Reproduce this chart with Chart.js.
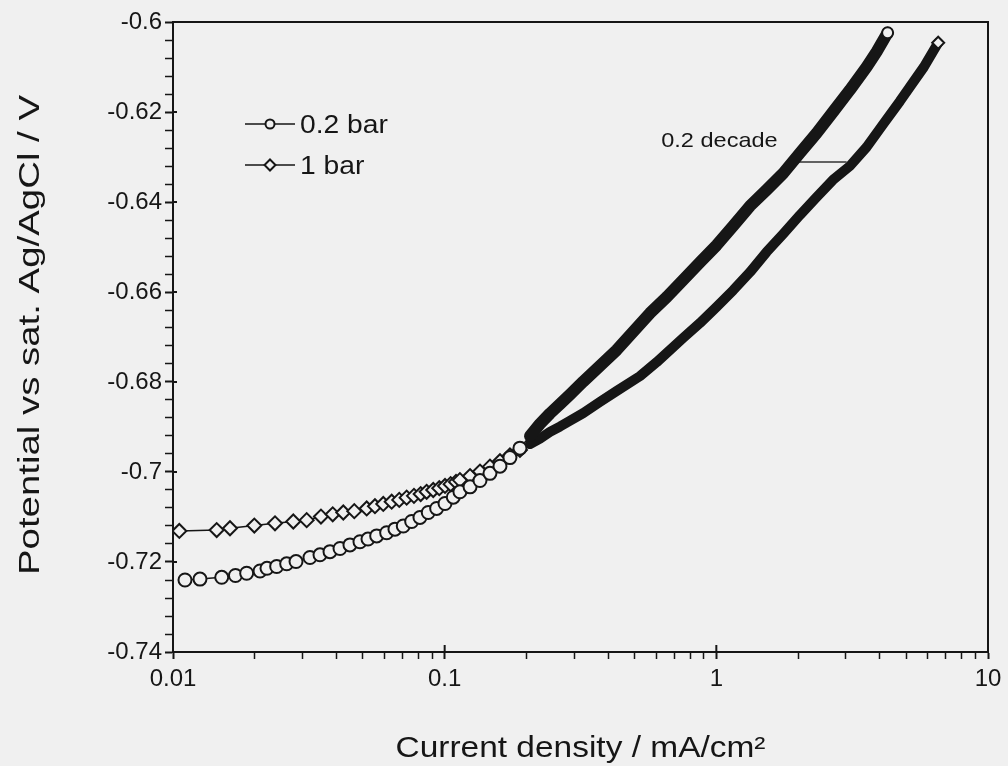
<!DOCTYPE html>
<html>
<head>
<meta charset="utf-8">
<script src="https://cdn.jsdelivr.net/npm/chart.js@4"></script>
<style>
  html, body { margin: 0; padding: 0; background: #f0f0f0; }
  #wrap { width: 1008px; height: 766px; }
</style>
</head>
<body>
<div id="wrap"><canvas id="polChart" width="1008" height="766"></canvas></div>
<script>
// current density (mA/cm2) and potential (V vs sat. Ag/AgCl)
const current02 = [0.01107, 0.01257, 0.01511, 0.01698, 0.01867, 0.02091, 0.02218, 0.02408, 0.02621, 0.02837,
  0.03193, 0.03476, 0.03784, 0.04119, 0.04481, 0.04878, 0.05221, 0.05620, 0.06116, 0.06562,
  0.07041, 0.07560, 0.08111, 0.08702, 0.09344, 0.1003, 0.1076, 0.1138, 0.1240, 0.1349,
  0.1468, 0.1598, 0.1739, 0.1893, 0.2061, 0.2243, 0.2441, 0.2657, 0.2892, 0.3236,
  0.3729, 0.4296, 0.4932, 0.5697, 0.6579, 0.7553, 0.8701, 1.0025, 1.1541, 1.3297,
  1.5316, 1.7633, 2.0313, 2.3398, 2.6867, 3.1024, 3.5740, 3.8904, 4.2705];
const potential02 = [-0.7240, -0.7238, -0.7234, -0.7230, -0.7225, -0.7220, -0.7214, -0.7210, -0.7204, -0.7199,
  -0.7190, -0.7184, -0.7177, -0.7170, -0.7162, -0.7155, -0.7149, -0.7142, -0.7135, -0.7127,
  -0.7120, -0.7110, -0.7101, -0.7090, -0.7081, -0.7070, -0.7056, -0.7044, -0.7033, -0.7019,
  -0.7003, -0.6987, -0.6968, -0.6947, -0.6920, -0.6893, -0.6870, -0.6849, -0.6828, -0.6799,
  -0.6764, -0.6729, -0.6689, -0.6647, -0.6611, -0.6573, -0.6534, -0.6496, -0.6453, -0.6409,
  -0.6373, -0.6336, -0.6291, -0.6247, -0.6200, -0.6151, -0.6100, -0.6066, -0.6024];

const current1 = [0.01055, 0.01448, 0.01621, 0.01992, 0.02374, 0.02772, 0.03105, 0.03505, 0.03872, 0.04235,
  0.04648, 0.05164, 0.05539, 0.05943, 0.06382, 0.06806, 0.07246, 0.07709, 0.08160, 0.08584,
  0.09078, 0.09553, 0.1003, 0.1052, 0.1101, 0.1138, 0.1240, 0.1349, 0.1468, 0.1598,
  0.1739, 0.1893, 0.2061, 0.2243, 0.2441, 0.2657, 0.2892, 0.3236, 0.3729, 0.4296,
  0.5234, 0.6030, 0.7553, 0.8701, 1.0025, 1.1541, 1.3297, 1.5316, 1.7633, 2.0313,
  2.3398, 2.6867, 3.1024, 3.5740, 4.1141, 4.7406, 5.1592, 5.8076, 6.5568];
const potential1 = [-0.7131, -0.7129, -0.7125, -0.7119, -0.7114, -0.7110, -0.7107, -0.7099, -0.7094, -0.7090,
  -0.7087, -0.7081, -0.7076, -0.7071, -0.7066, -0.7062, -0.7057, -0.7053, -0.7049, -0.7044,
  -0.7040, -0.7036, -0.7031, -0.7027, -0.7022, -0.7018, -0.7009, -0.6999, -0.6988, -0.6976,
  -0.6963, -0.6951, -0.6938, -0.6926, -0.6911, -0.6899, -0.6886, -0.6869, -0.6844, -0.6820,
  -0.6787, -0.6756, -0.6702, -0.6669, -0.6633, -0.6596, -0.6556, -0.6511, -0.6471, -0.6429,
  -0.6389, -0.6351, -0.6320, -0.6278, -0.6227, -0.6176, -0.6144, -0.6100, -0.6046];

const seriesNames = ['0.2 bar', '1 bar'];
const xTicks = [0.01, 0.1, 1, 10];
const yTicks = [-0.6, -0.62, -0.64, -0.66, -0.68, -0.7, -0.72, -0.74];
const xTitle = 'Current density / mA/cm²';
const yTitle = 'Potential vs sat. Ag/AgCl / V';

// "0.2 decade" marker between the two curves
const decadeCurrent = [1.975, 3.018];
const decadePotential = [-0.6311, -0.6311];
const decadeLabel = '0.2 decade';

const ink = '#161616';
const paper = '#f0f0f0';
const fontFamily = '"Liberation Sans", Arial, sans-serif';
const tickFont = { family: fontFamily, size: 24 };

function pairs(xs, ys) {
  return xs.map((x, i) => ({ x: x, y: ys[i] }));
}

// sparse markers at low current, a solid band where the points pile up
function curve(label, xs, ys, style, radius, bandFrom, bandWidth) {
  return {
    label: label,
    data: pairs(xs, ys),
    borderColor: ink,
    borderWidth: 1.5,
    borderCapStyle: 'round',
    borderJoinStyle: 'round',
    tension: 0,
    pointStyle: style,
    pointBorderColor: ink,
    pointBackgroundColor: paper,
    pointBorderWidth: 2,
    pointRadius: c => {
      if (c.dataIndex === c.dataset.data.length - 1) return radius - 1;
      return c.raw && c.raw.x >= bandFrom ? 0 : radius;
    },
    segment: {
      borderWidth: s => (s.p0.parsed.x >= bandFrom ? bandWidth : 1.5)
    }
  };
}

function buildLogTicks(scale) {
  const t = [];
  for (let i = 0; i < xTicks.length - 1; i++) {
    for (let m = 1; m < 10; m++) t.push({ value: m * xTicks[i] });
  }
  t.push({ value: xTicks[xTicks.length - 1] });
  scale.ticks = t;
}

function buildLinTicks(scale) {
  const t = [];
  for (let k = 0; k <= 35; k++) t.push({ value: -0.74 + k * 0.004 });
  scale.ticks = t;
}

function isMajorX(v) { return xTicks.some(t => Math.abs(v - t) / t < 1e-6); }
function isMajorY(v) { return yTicks.some(t => Math.abs(v - t) < 1e-6); }

// the original lettering is a bit wider than Helvetica, so stretch it sideways
function wideText(ctx, text, x, y, sx, align) {
  ctx.save();
  ctx.translate(x, y);
  ctx.scale(sx, 1);
  ctx.textAlign = align;
  ctx.fillText(text, 0, 0);
  ctx.restore();
}

const decorations = {
  id: 'decorations',
  afterDraw(chart) {
    const { ctx, chartArea: a, scales: { x, y } } = chart;
    ctx.save();
    ctx.strokeStyle = ink;
    ctx.fillStyle = ink;
    ctx.lineWidth = 2;
    ctx.strokeRect(a.left, a.top, a.right - a.left, a.bottom - a.top);

    // major ticks cross the axis lines
    ctx.beginPath();
    xTicks.forEach(v => {
      const px = x.getPixelForValue(v);
      ctx.moveTo(px, a.bottom); ctx.lineTo(px, a.bottom - 7);
    });
    yTicks.forEach(v => {
      const py = y.getPixelForValue(v);
      ctx.moveTo(a.left, py); ctx.lineTo(a.left + 4, py);
    });
    ctx.stroke();

    // axis titles
    ctx.textBaseline = 'alphabetic';
    ctx.font = '29px ' + fontFamily;
    const xw = ctx.measureText(xTitle).width;
    wideText(ctx, xTitle, (a.left + a.right) / 2, 757, 370 / xw, 'center');

    ctx.font = '30px ' + fontFamily;
    const yw = ctx.measureText(yTitle).width;
    ctx.save();
    ctx.translate(39, 335);
    ctx.rotate(-Math.PI / 2);
    wideText(ctx, yTitle, 0, 0, 480 / yw, 'center');
    ctx.restore();

    // legend inside the plot
    const rows = [a.top + 102, a.top + 143];
    const l0 = a.left + 72, l1 = a.left + 122, mx = a.left + 97;
    ctx.font = '25px ' + fontFamily;
    rows.forEach((ry, i) => {
      ctx.lineWidth = 1.5;
      ctx.beginPath();
      ctx.moveTo(l0, ry); ctx.lineTo(l1, ry);
      ctx.stroke();
      ctx.lineWidth = 2;
      ctx.beginPath();
      if (i === 0) {
        ctx.arc(mx, ry, 4.5, 0, Math.PI * 2);
      } else {
        ctx.moveTo(mx, ry - 5.5); ctx.lineTo(mx + 5.5, ry);
        ctx.lineTo(mx, ry + 5.5); ctx.lineTo(mx - 5.5, ry); ctx.closePath();
      }
      ctx.fillStyle = paper;
      ctx.fill();
      ctx.stroke();
      ctx.fillStyle = ink;
      wideText(ctx, seriesNames[i], l1 + 5, ry + 9, 1.13, 'left');
    });

    // annotation text, placed above the left end of the marker line
    ctx.font = '21px ' + fontFamily;
    wideText(ctx, decadeLabel, x.getPixelForValue(decadeCurrent[0]) - 19,
      y.getPixelForValue(decadePotential[0]) - 15, 1.12, 'right');
    ctx.restore();
  }
};

new Chart(document.getElementById('polChart').getContext('2d'), {
  type: 'line',
  data: {
    datasets: [
      curve(seriesNames[0], current02, potential02, 'circle', 6.5, 0.2, 12),
      curve(seriesNames[1], current1, potential1, 'rectRot', 7, 0.2, 10),
      {
        label: 'decade',
        data: pairs(decadeCurrent, decadePotential),
        borderColor: '#333',
        borderWidth: 1.5,
        pointRadius: 0
      }
    ]
  },
  options: {
    responsive: false,
    animation: false,
    events: [],
    layout: { padding: { top: 22, right: 20, left: 0, bottom: 0 } },
    plugins: { legend: { display: false }, tooltip: { enabled: false } },
    scales: {
      x: {
        type: 'logarithmic',
        min: 0.01,
        max: 10,
        afterFit: s => { s.height = 114; },
        afterBuildTicks: buildLogTicks,
        ticks: {
          autoSkip: false,
          maxRotation: 0,
          padding: 6,
          color: ink,
          font: tickFont,
          callback: v => (isMajorX(v) ? String(xTicks.find(t => Math.abs(v - t) / t < 1e-6)) : '')
        },
        grid: {
          drawOnChartArea: false,
          drawTicks: true,
          tickLength: 7,
          tickColor: ink,
          tickWidth: c => (c.tick && isMajorX(c.tick.value) ? 2 : 1.5)
        },
        border: { display: true, color: ink, width: 2 },
        title: { display: false, text: xTitle }
      },
      y: {
        type: 'linear',
        min: -0.74,
        max: -0.6,
        afterFit: s => { s.width = 173; },
        afterBuildTicks: buildLinTicks,
        ticks: {
          autoSkip: false,
          padding: 3,
          color: ink,
          font: tickFont,
          callback: v => (isMajorY(v) ? String(parseFloat(v.toFixed(2))) : '')
        },
        grid: {
          drawOnChartArea: false,
          drawTicks: true,
          tickLength: 8,
          tickColor: ink,
          tickWidth: c => (c.tick && isMajorY(c.tick.value) ? 2 : 1.5)
        },
        border: { display: true, color: ink, width: 2 },
        title: { display: false, text: yTitle }
      }
    }
  },
  plugins: [decorations]
});
</script>
</body>
</html>
